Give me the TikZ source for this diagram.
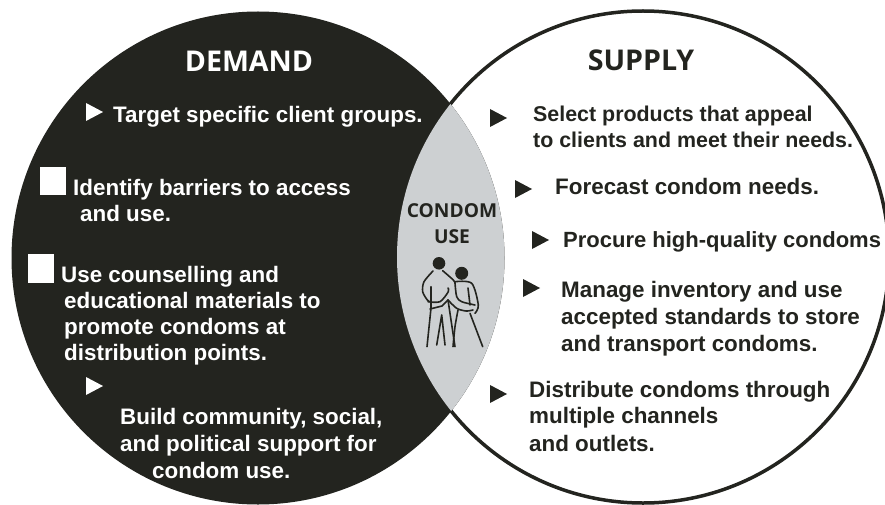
\documentclass[tikz,border=0pt]{standalone}
\usepackage{fontspec}
\setmainfont{Liberation Sans}
\newfontfamily\headfont{Open Sans}
\definecolor{darkfill}{HTML}{23241F}
\definecolor{lensgrey}{HTML}{CDD0D2}
\tikzset{
  item/.style={anchor=base west,inner sep=0pt,font=\fontsize{22.4}{26}\selectfont\bfseries},
  head/.style={anchor=base,inner sep=0pt,font=\fontsize{28.6}{28}\selectfont\headfont\bfseries},
  lenstext/.style={anchor=base,inner sep=0pt,font=\fontsize{19.2}{19}\selectfont\headfont\bfseries,text=darkfill},
  figline/.style={line width=1.6pt,darkfill,line cap=round,line join=round},
}
\begin{document}
\begin{tikzpicture}[x=1pt,y=-1pt]
\clip (0,0) rectangle (885,505);
\fill[white] (0,0) rectangle (885,505);
% the two circles
\draw[darkfill,line width=3.5pt,fill=white] (643,257) circle (246);
\fill[darkfill] (258,258) circle (246.5);
\begin{scope}
\clip (258,258) circle (246.5);
\fill[lensgrey] (643,257) circle (246);
\end{scope}
% headings
\node[head,text=white] (demand) at (249,72) {DEMAND};
\node[head,text=darkfill] (supply) at (641,71) {SUPPLY};
\node[lenstext] (condom) at (452,217) {CONDOM};
\node[lenstext] (use) at (452,243) {USE};
% demand side
\begin{scope}[white]
\foreach \n/\x/\y/\t in {
    target/113/123/{Target specific client groups.},
    identifya/73/195/{Identify barriers to access},
    identifyb/80/221/{and use.},
    counsela/61/282/{Use counselling and},
    counselb/64/308/{educational materials to},
    counselc/64/334/{promote condoms at},
    counseld/64/360/{distribution points.},
    builda/120/424/{Build community, social,},
    buildb/120/451/{and political support for},
    buildc/152/478/{condom use.}}
{
    \node[item,text=white] (\n) at (\x,\y) {\t};
}
\foreach \x/\y in {86/103,86/377}
{
    \fill (\x,\y)--++(17,9)--++(-17,9)--cycle;
}
\fill (40,167) rectangle (66,195);
\fill (28,254) rectangle (54,283);
\end{scope}
% supply side
\begin{scope}[darkfill]
\foreach \n/\x/\y/\t in {
    forecast/555/194/{Forecast condom needs.},
    managea/561/297/{Manage inventory and use},
    manageb/561/324/{accepted standards to store},
    managec/561/351/{and transport condoms.},
    distributea/529/397/{Distribute condoms through},
    distributeb/529/423/{multiple channels},
    distributec/529/451/{and outlets.}}
{
    \node[item,text=darkfill] (\n) at (\x,\y) {\t};
}
\node[item,text=darkfill,font=\fontsize{22}{26}\selectfont\bfseries] (procure) at (563,247) {Procure high-quality condoms};
\node[item,text=darkfill,font=\fontsize{21.4}{26}\selectfont\bfseries] (selecta) at (533,122) {Select products that appeal};
\node[item,text=darkfill,font=\fontsize{21.4}{26}\selectfont\bfseries] (selectb) at (533,148) {to clients and meet their needs.};
\foreach \x/\y in {490/109,515/180,532/231,523/279,490/385}
{
    \fill (\x,\y)--++(17,9)--++(-17,9)--cycle;
}
\end{scope}
% the couple
\fill[darkfill] (439,263.3) circle (6.3);
\fill[darkfill] (461.7,273.3) circle (6.5);
\draw[figline] plot[smooth] coordinates {(433,271) (424,281.7) (422.7,291.7) (427.3,300) (430,301.7)};
\draw[figline] (431,286.7)--(431,308)--(427,346.7);
\draw[figline] plot[smooth] coordinates {(442.7,270.7) (453.3,280) (455,283)};
\draw[figline] plot[smooth] coordinates {(428,301.7) (440,301.7) (448.3,291.7) (448,288)};
\draw[figline] (430,309)--(442,306)--(448,300);
\draw[figline] (441.7,315)--(436.7,345) (441.7,315)--(445,345);
\draw[figline] (448,300)--(455,346.7);
\draw[figline] plot[smooth] coordinates {(448,300) (456.7,308.3) (466,311) (473,310)};
\draw[figline] plot[smooth] coordinates {(455,281.7) (471.7,283.3) (478.3,305) (475,313.3)};
\draw[figline] (468,288)--(470,305);
\draw[figline] plot[smooth] coordinates {(455,283) (456.7,296.7) (461.7,301.7) (475,305)};
\draw[figline] (470,313.3)--(482.7,346.7);
\draw[figline] plot[smooth] coordinates {(458,310) (455,326.7) (453,346.7)};
\end{tikzpicture}
\end{document}
